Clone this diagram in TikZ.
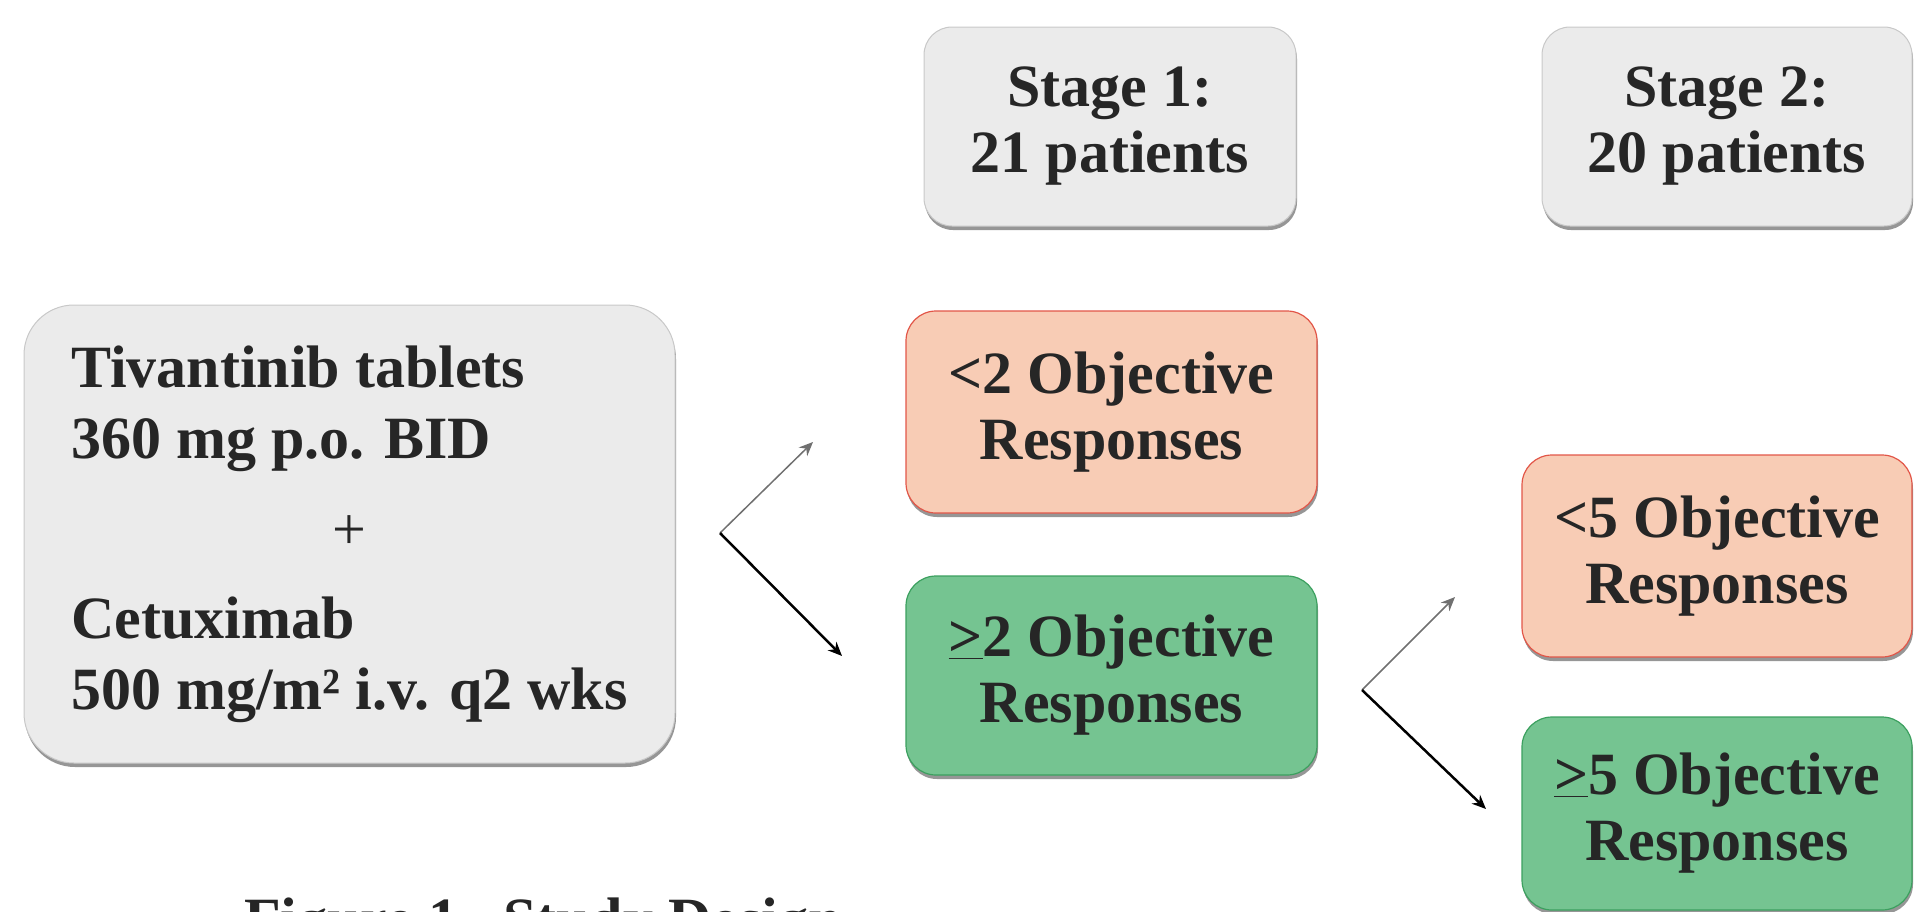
\documentclass[tikz,border=0pt]{standalone}
\usepackage{fontspec}
\setmainfont{Liberation Serif}
\usetikzlibrary{arrows.meta}
\definecolor{boxgray}{RGB}{235,235,235}
\definecolor{boxedge}{RGB}{200,200,200}
\definecolor{shadowgray}{RGB}{150,150,150}
\definecolor{salmon}{RGB}{248,204,181}
\definecolor{salmonedge}{RGB}{226,86,72}
\definecolor{grn}{RGB}{117,196,145}
\definecolor{grnedge}{RGB}{60,160,95}
\definecolor{txt}{RGB}{38,38,38}
\definecolor{arrgray}{RGB}{112,112,112}
\begin{document}
\begin{tikzpicture}[x=1pt,y=-1pt,
  boxbase/.style={inner sep=0pt, font=\bfseries\fontsize{60}{66}\selectfont, text=txt, align=center,
    preaction={draw=none, fill=shadowgray, transform canvas={xshift=1pt,yshift=-4pt}}},
  graybox/.style={boxbase, fill=boxgray, draw=boxedge, line width=1pt},
  redbox/.style={boxbase, fill=salmon, draw=salmonedge, line width=1.2pt, rounded corners=30pt},
  greenbox/.style={boxbase, fill=grn, draw=grnedge, line width=1.2pt, rounded corners=30pt},
  thinarrow/.style={draw=arrgray, line width=1.5pt, -{Stealth[length=14pt,width=12pt]}},
  thickarrow/.style={draw=black, line width=2.5pt, -{Stealth[length=14pt,width=12pt]}},
  caption/.style={font=\bfseries\fontsize{60}{66}\selectfont, text=txt, inner sep=0pt, anchor=base west}
]
\useasboundingbox (0,0) rectangle (1914,911);
\clip (0,0) rectangle (1914,911);

\node[graybox, rounded corners=50pt, minimum width=651pt, minimum height=458pt] (drug) at (349.5,534)
  {\fontsize{60}{71}\selectfont\begin{tabular}{@{}l@{}}Tivantinib tablets\\360 mg p.o. BID\\[20pt]
   \multicolumn{1}{@{}c@{}}{\mdseries +}\\[18pt]Cetuximab\\500 mg/m² i.v. q2 wks\end{tabular}};

\node[graybox, rounded corners=28pt, minimum width=372pt, minimum height=199pt] (stage1) at (1110,126.5)
  {Stage 1:\\21 patients};
\node[graybox, rounded corners=28pt, minimum width=370pt, minimum height=199pt] (stage2) at (1727,126.5)
  {Stage 2:\\20 patients};

\node[redbox, minimum width=411pt, minimum height=202pt] (lt2) at (1111.5,412)
  {<2 Objective\\Responses};
\node[greenbox, minimum width=411pt, minimum height=199pt] (ge2) at (1111.5,675.5)
  {\underline{>}2 Objective\\Responses};
\node[redbox, minimum width=390pt, minimum height=202pt] (lt5) at (1717,556)
  {<5 Objective\\Responses};
\node[greenbox, minimum width=390pt, minimum height=193pt] (ge5) at (1717,813.5)
  {\underline{>}5 Objective\\Responses};

\coordinate (s1) at (720,533);
\coordinate (u1) at (813,442);
\coordinate (d1) at (842,656);
\coordinate (s2) at (1362,690);
\coordinate (u2) at (1455,597);
\coordinate (d2) at (1486,809);
\draw[thinarrow] (s1) -- (u1);
\draw[thickarrow] (s1) -- (d1);
\draw[thinarrow] (s2) -- (u2);
\draw[thickarrow] (s2) -- (d2);

\node[caption] (cap) at (244,939) {Figure 1.\ \ Study Design};
\end{tikzpicture}
\end{document}
